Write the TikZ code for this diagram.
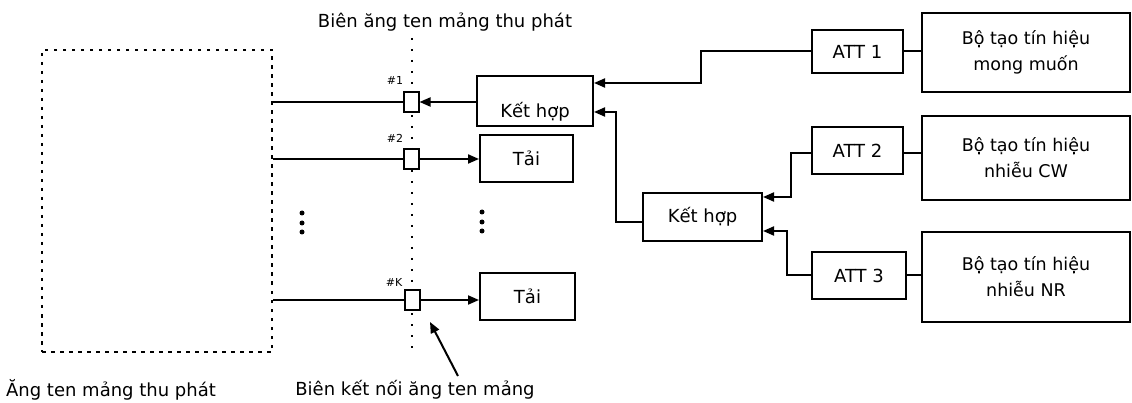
\documentclass[tikz,border=0pt]{standalone}
\usepackage{fontspec}
\setmainfont{DejaVu Sans}
\usetikzlibrary{arrows.meta}
\begin{document}
\begin{tikzpicture}[x=1pt,y=-1pt,
  box/.style={draw,line width=2pt,fill=white,inner sep=0pt,font=\fontsize{18}{20}\selectfont},
  genbox/.style={draw,line width=2pt,fill=white,inner sep=0pt,align=center,font=\fontsize{17.5}{26}\selectfont},
  port/.style={draw,line width=2pt,fill=white,minimum width=15pt,minimum height=20pt,inner sep=0pt},
  dotbox/.style={draw,line width=2.4pt,dash pattern=on 3.5pt off 5.5pt,inner sep=0pt},
  vdot/.style={line width=1.4pt,dash pattern=on 2pt off 9pt},
  wire/.style={line width=2pt},
  arr/.style={line width=2pt,-{Triangle[length=11pt,width=9pt]}},
  lab/.style={font=\fontsize{18}{20}\selectfont,inner sep=0pt},
  plab/.style={font=\fontsize{11}{12}\selectfont,inner sep=0pt},
  dotmark/.style={circle,fill,inner sep=0pt,minimum size=5pt}]
\useasboundingbox (0,0) rectangle (1132,403);
% vertical dotted boundary
\coordinate (vt) at (412,38);
\coordinate (vb) at (412,348);
\draw[vdot] (vt) -- (vb);
% antenna array
\node[dotbox,minimum width=230pt,minimum height=302pt] (ant) at (157,201) {};
% ports
\node[port] (p1) at (411,102) {};
\node[port] (p2) at (411,159) {};
\node[port] (pK) at (412,300) {};
\node[plab] (l1) at (395,80) {\#1};
\node[plab] (l2) at (395,138) {\#2};
\node[plab] (lK) at (394,282) {\#K};
% boxes
\node[box,minimum width=116pt,minimum height=50pt,label={[lab,yshift=-11pt]center:Kết hợp}] (kh1) at (535,101) {};
\node[box,minimum width=93pt,minimum height=47pt] (t2) at (526.5,158.5) {Tải};
\node[box,minimum width=95pt,minimum height=47pt] (tK) at (527.5,296.5) {Tải};
\node[box,minimum width=119pt,minimum height=48pt] (kh2) at (702.5,217) {Kết hợp};
\node[box,minimum width=91pt,minimum height=43pt] (att1) at (857.5,51.5) {ATT 1};
\node[box,minimum width=91pt,minimum height=47pt] (att2) at (857.5,150.5) {ATT 2};
\node[box,minimum width=94pt,minimum height=47pt] (att3) at (859,275.5) {ATT 3};
\node[genbox,minimum width=208pt,minimum height=79pt] (g1) at (1026,52.5) {Bộ tạo tín hiệu\\mong muốn};
\node[genbox,minimum width=208pt,minimum height=84pt] (g2) at (1026,158) {Bộ tạo tín hiệu\\nhiễu CW};
\node[genbox,minimum width=208pt,minimum height=90pt] (g3) at (1026,277) {Bộ tạo tín hiệu\\nhiễu NR};
% ellipsis dots
\node[dotmark] (d1) at (302,213) {};
\node[dotmark] (d2) at (302,223) {};
\node[dotmark] (d3) at (302,232) {};
\node[dotmark] (e1) at (482,212) {};
\node[dotmark] (e2) at (482,222) {};
\node[dotmark] (e3) at (482,231) {};
% wires antenna -> ports
\draw[wire] (ant.east |- p1) -- (p1.west);
\draw[wire] (ant.east |- p2) -- (p2.west);
\draw[wire] (ant.east |- pK) -- (pK.west);
% ports <-> boxes
\draw[arr] (kh1.west |- p1) -- (p1.east);
\draw[arr] (p2.east) -- (t2.west |- p2);
\draw[arr] (pK.east) -- (tK.west |- pK);
% ATT -> combiners
\coordinate (a2w) at ([yshift=-2.5pt]att2.west);
\coordinate (a2e) at ([yshift=-2.5pt]att2.east);
\draw[arr] (att1.west) -- ++(-110,0) |- ([yshift=18pt]kh1.east);
\draw[arr] ([yshift=-5pt]kh2.west) -- ++(-26,0) |- ([yshift=-11pt]kh1.east);
\draw[arr] (a2w) -- ++(-20,0) |- ([yshift=20pt]kh2.east);
\draw[arr] (att3.west) -- ++(-24,0) |- ([yshift=-14pt]kh2.east);
% generators -> ATT
\draw[wire] (att1.east) -- (g1.west |- att1.east);
\draw[wire] (a2e) -- (a2e -| g2.west);
\draw[wire] (att3.east) -- (g3.west |- att3.east);
% labels
\node[lab] (title) at (445,22) {Biên ăng ten mảng thu phát};
\node[lab] (antlab) at (111,390) {Ăng ten mảng thu phát};
\node[lab] (blab) at (415,390) {Biên kết nối ăng ten mảng};
\coordinate (btail) at (458,376);
\coordinate (btip) at (430,322);
\draw[arr] (btail) -- (btip);
\end{tikzpicture}
\end{document}
